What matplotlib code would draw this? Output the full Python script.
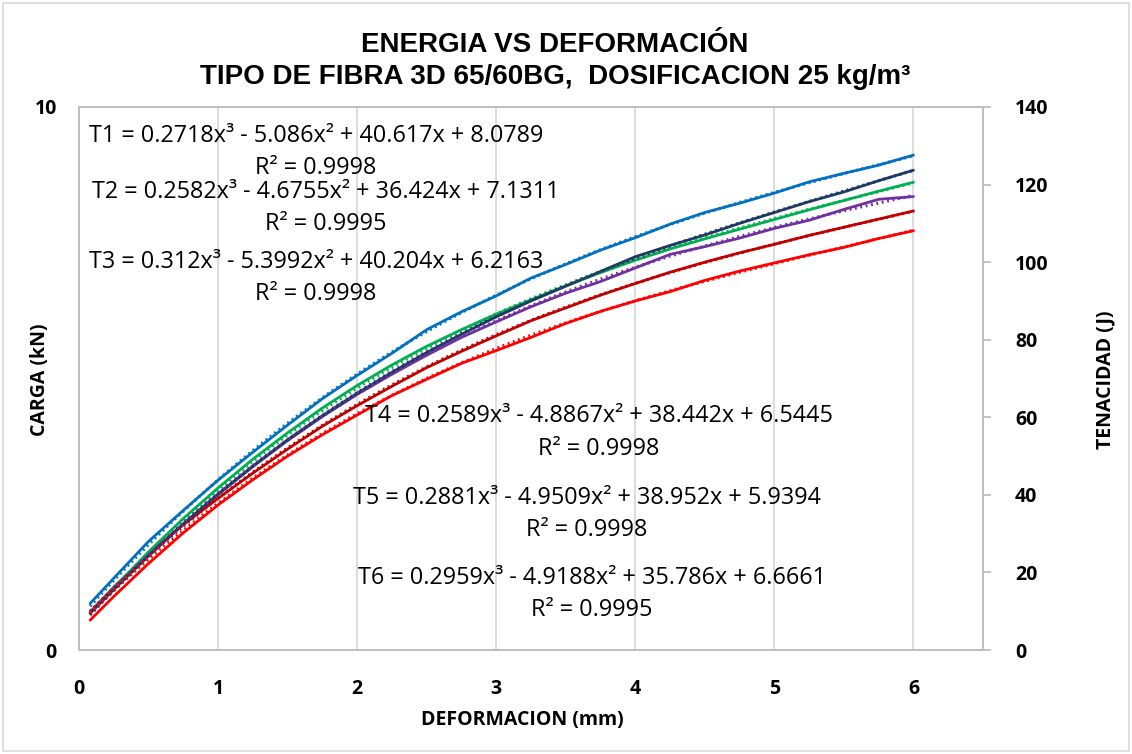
import numpy as np
import matplotlib.pyplot as plt
from matplotlib.patches import Rectangle

plt.switch_backend('Agg')

# deformation (mm) where the curves were read
deform = [0.08, 0.25, 0.5, 0.75, 1.0, 1.25, 1.5, 1.75, 2.0, 2.25, 2.5, 2.75, 3.0,
          3.25, 3.5, 3.75, 4.0, 4.25, 4.5, 4.75, 5.0, 5.25, 5.5, 5.75, 6.0]

# energy (J)
t1 = [12.0, 18.5, 28.0, 36.0, 43.8, 51.0, 58.0, 64.8, 70.8, 76.5, 82.6, 87.2, 91.3,
      95.9, 99.4, 103.1, 106.3, 109.8, 112.8, 115.2, 117.8, 120.7, 122.9, 125.0, 127.6]
t2 = [9.8, 16.2, 24.8, 32.3, 39.1, 45.6, 51.8, 57.7, 63.0, 68.0, 72.8, 77.0, 81.0,
      84.9, 88.2, 91.5, 94.5, 97.4, 100.0, 102.4, 104.6, 106.9, 109.0, 111.1, 113.2]
t3 = [9.6, 16.0, 25.3, 33.9, 41.8, 49.2, 56.0, 62.4, 68.2, 73.5, 78.3, 82.6, 86.6,
      90.3, 93.9, 97.3, 100.5, 103.4, 106.0, 108.5, 111.0, 113.5, 115.9, 118.3, 120.6]
t4 = [9.6, 15.8, 24.4, 32.5, 40.1, 47.3, 54.0, 60.2, 65.9, 71.1, 76.0, 80.6, 84.6,
      88.5, 92.0, 95.0, 98.5, 102.0, 104.0, 106.2, 108.7, 110.8, 113.6, 116.2, 116.9]
t5 = [9.5, 15.6, 24.3, 32.5, 40.2, 47.4, 54.2, 60.4, 66.2, 71.6, 76.7, 81.4, 85.9,
      90.0, 93.8, 97.6, 101.4, 104.3, 107.0, 110.0, 112.8, 115.6, 118.1, 121.0, 123.7]
t6 = [7.7, 13.8, 22.3, 30.2, 37.4, 43.9, 50.0, 55.5, 60.6, 65.6, 69.8, 73.9, 77.2,
      80.6, 84.2, 87.3, 90.0, 92.4, 95.3, 97.7, 99.8, 101.9, 103.8, 106.1, 108.1]

# trendline coefficients (poly 3) as printed on the chart
c1 = [0.2718, -5.086, 40.617, 8.0789]
c2 = [0.2582, -4.6755, 36.424, 7.1311]
c3 = [0.312, -5.3992, 40.204, 6.2163]
c4 = [0.2589, -4.8867, 38.442, 6.5445]
c5 = [0.2881, -4.9509, 38.952, 5.9394]
c6 = [0.2959, -4.9188, 35.786, 6.6661]
r2 = ['0.9998', '0.9995', '0.9998', '0.9998', '0.9998', '0.9995']

names = ['T1', 'T2', 'T3', 'T4', 'T5', 'T6']
series = [t1, t2, t3, t4, t5, t6]
coefs = [c1, c2, c3, c4, c5, c6]
colors = ['#0070C0', '#C00000', '#00B050', '#7030A0', '#1F3864', '#FF0000']

# label centers in pixels
lab_pos = [(316, 152), (326, 208), (316, 278), (599, 432), (587, 514), (592, 594)]

W, H = 1132, 754
fig = plt.figure(figsize=(W / 100, H / 100), dpi=100)
ax = fig.add_axes([79 / W, 1 - 650 / H, (983 - 79) / W, (650 - 107) / H])
ax2 = ax.twinx()

grey = '#BFBFBF'
bfont = 'Open Sans'
tickfont = dict(family=bfont, weight='bold', size=14)

ax.set_xlim(0, 6.5)
ax.set_ylim(0, 10)
ax.set_xticks(range(7))
ax.set_yticks([0, 10])
ax.grid(axis='x', color='#D9D9D9', lw=1.3)
ax.tick_params(axis='x', length=0, pad=21)
ax.tick_params(axis='y', length=0, pad=16)
ax.set_xticklabels([str(i) for i in range(7)], fontdict=tickfont)
ax.set_yticklabels(['0', '10'], fontdict=tickfont)

ax2.set_ylim(0, 140)
ax2.set_yticks(range(0, 141, 20))
ax2.set_yticklabels([str(v) for v in range(0, 141, 20)], fontdict=tickfont)
ax2.tick_params(axis='y', length=6, width=1.3, color=grey, direction='out', pad=17)

for a in (ax, ax2):
    for s in a.spines.values():
        s.set_color(grey)
        s.set_linewidth(1.3)

for ys, col in zip(series, colors):
    ax2.plot(deform, ys, color=col, lw=2.0, solid_capstyle='round')
for cf, col in zip(coefs, colors):
    xs = np.linspace(deform[0], deform[-1], 200)
    ax2.plot(xs, np.polyval(cf, xs), color=col, lw=2.2, linestyle=(0, (0.6, 1.2)))

for n, cf, r, (px, py) in zip(names, coefs, r2, lab_pos):
    eq = '%s = %gx\u00b3 - %gx\u00b2 + %gx + %g' % (n, cf[0], abs(cf[1]), cf[2], cf[3])
    fig.text(px / W, 1 - py / H, eq + '\nR\u00b2 = ' + r, ha='center', va='center',
             multialignment='center', family='Open Sans', size=16.8, linespacing=1.5)

fig.text(555 / W, 1 - 45 / H, 'ENERGIA VS DEFORMACIÓN', ha='center', va='center',
         family='Liberation Sans', weight='bold', size=20)
fig.text(555 / W, 1 - 77 / H, 'TIPO DE FIBRA 3D 65/60BG,  DOSIFICACION 25 kg/m\u00b3',
         ha='center', va='center', family='Liberation Sans', weight='bold', size=20)

fig.text(40 / W, 1 - 380 / H, 'CARGA (kN)', rotation=90, ha='center', va='center',
         family=bfont, weight='bold', size=14)
fig.text(1105 / W, 1 - 380 / H, 'TENACIDAD (J)', rotation=90, ha='center', va='center',
         family=bfont, weight='bold', size=14)
fig.text(522 / W, 1 - 720 / H, 'DEFORMACION (mm)', ha='center', va='center',
         family=bfont, weight='bold', size=14)

fig.patches.append(Rectangle((3 / W, 3 / H), 1 - 6 / W, 1 - 6 / H, transform=fig.transFigure,
                             fill=False, edgecolor='#D9D9D9', lw=1.2))

fig.savefig('out.png', dpi=100)
